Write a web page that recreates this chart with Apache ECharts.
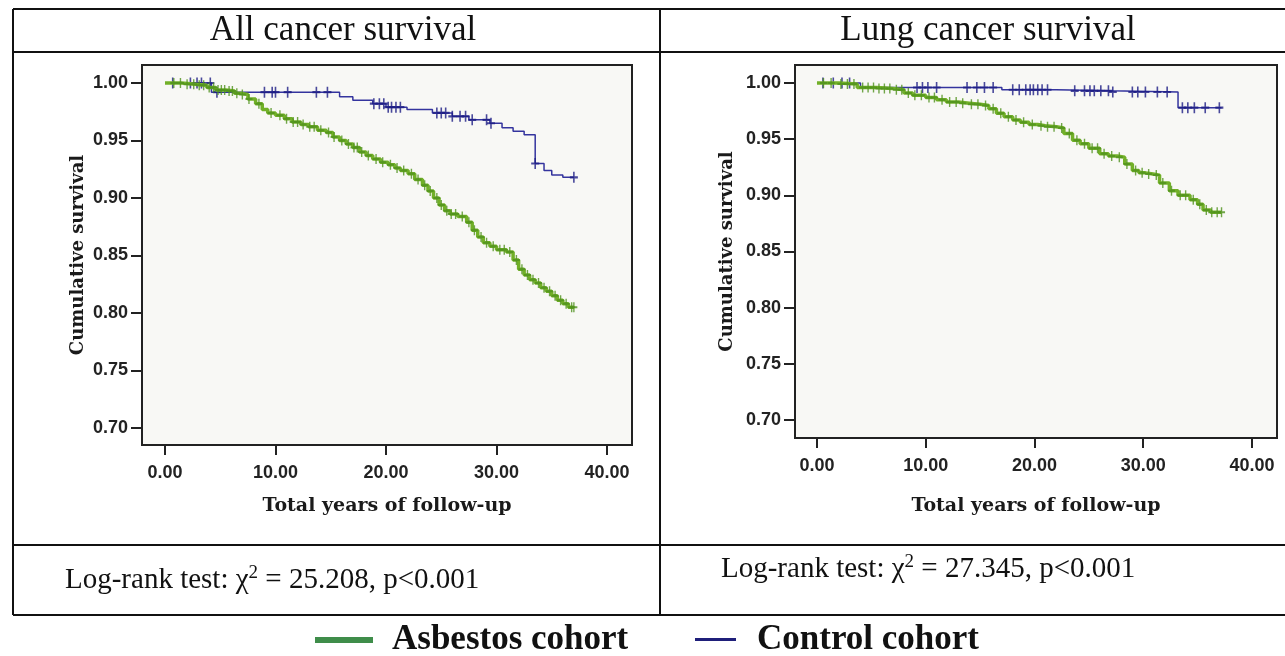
<!DOCTYPE html>
<html>
<head>
<meta charset="utf-8">
<script src="https://cdn.jsdelivr.net/npm/echarts@6/dist/echarts.min.js"></script>
<style>
  html, body { margin: 0; padding: 0; background: #fff; }
  #main { width: 1285px; height: 656px; }
</style>
</head>
<body>
<div id="main"></div>
<script>
// Kaplan-Meier steps (time in years, cumulative survival)
const allAsbT = [0, 1.5, 2.8, 3.8, 4.6, 5.5, 6.3, 6.8, 7.5, 8.2, 8.8, 9.3, 10.0, 10.8, 11.5, 12.3, 13.0, 13.8, 14.6, 15.2, 15.8, 16.4, 17.0, 17.6, 18.2, 18.8, 19.5, 20.2, 20.8, 21.3, 22.0, 22.6, 23.3, 23.8, 24.3, 24.8, 25.3, 25.8, 26.5, 27.3, 27.8, 28.3, 28.8, 29.4, 30.0, 30.9, 31.5, 32.0, 32.5, 33.0, 33.5, 34.0, 34.5, 35.0, 35.5, 36.0, 36.5, 37.0];
const allAsbS = [1.000, 0.999, 0.998, 0.996, 0.994, 0.993, 0.991, 0.990, 0.986, 0.982, 0.977, 0.974, 0.972, 0.969, 0.966, 0.964, 0.962, 0.959, 0.957, 0.953, 0.950, 0.947, 0.944, 0.940, 0.937, 0.934, 0.931, 0.929, 0.926, 0.924, 0.921, 0.916, 0.911, 0.906, 0.900, 0.894, 0.889, 0.886, 0.884, 0.879, 0.872, 0.866, 0.861, 0.858, 0.855, 0.853, 0.846, 0.838, 0.833, 0.829, 0.826, 0.822, 0.819, 0.815, 0.811, 0.808, 0.805, 0.805];
const allAsbCensor = [0.8, 1.4, 2.0, 2.6, 3.1, 3.5, 4.0, 4.4, 4.8, 5.1, 5.4, 5.8, 6.1, 6.5, 7.0, 7.6, 8.5, 9.6, 10.4, 11.0, 11.6, 12.0, 12.5, 13.1, 13.5, 14.1, 14.8, 15.3, 16.0, 16.6, 17.1, 17.4, 17.8, 18.4, 19.1, 19.7, 20.4, 21.0, 21.6, 22.3, 22.9, 23.5, 24.0, 24.6, 25.0, 25.5, 25.9, 26.3, 26.9, 27.5, 28.0, 28.6, 29.1, 29.7, 30.3, 30.7, 31.2, 31.8, 32.3, 32.8, 33.3, 33.8, 34.3, 34.8, 35.3, 35.8, 36.3, 36.8, 37.0];

const allCtlT = [0, 4.2, 15.8, 17.0, 18.8, 20.0, 21.9, 24.2, 26.0, 27.5, 29.4, 30.5, 31.5, 32.5, 33.5, 34.3, 35.0, 36.0, 37.0];
const allCtlS = [1.000, 0.992, 0.988, 0.985, 0.982, 0.979, 0.977, 0.974, 0.971, 0.968, 0.965, 0.961, 0.958, 0.955, 0.930, 0.924, 0.920, 0.918, 0.918];
const allCtlCensor = [0.7, 2.3, 2.9, 3.3, 4.1, 4.7, 9.0, 9.7, 10.0, 11.1, 13.7, 14.7, 18.9, 19.4, 19.8, 20.2, 20.5, 20.9, 21.3, 24.6, 25.0, 25.4, 26.0, 26.7, 27.2, 27.8, 29.1, 29.5, 33.5, 37.0];

const lungAsbT = [0, 2.0, 3.7, 5.5, 7.0, 8.0, 8.8, 10.0, 11.0, 11.9, 13.0, 14.0, 15.0, 15.8, 16.5, 17.2, 18.0, 18.7, 19.5, 20.3, 21.0, 22.0, 22.7, 23.5, 24.2, 25.0, 26.0, 26.8, 27.6, 28.3, 29.0, 29.6, 30.2, 30.9, 31.5, 32.4, 33.2, 34.3, 35.0, 35.5, 36.2, 37.2];
const lungAsbS = [1.000, 0.999, 0.996, 0.995, 0.994, 0.991, 0.989, 0.987, 0.985, 0.983, 0.982, 0.981, 0.980, 0.977, 0.973, 0.970, 0.967, 0.965, 0.963, 0.962, 0.961, 0.960, 0.955, 0.949, 0.946, 0.942, 0.937, 0.935, 0.934, 0.928, 0.922, 0.920, 0.919, 0.918, 0.911, 0.904, 0.900, 0.896, 0.892, 0.887, 0.885, 0.885];
const lungAsbCensor = [0.6, 1.3, 2.2, 2.8, 3.4, 4.2, 4.7, 5.2, 5.7, 6.2, 6.7, 7.3, 7.8, 8.4, 9.0, 9.6, 10.3, 10.8, 11.5, 12.2, 12.8, 13.4, 14.2, 14.8, 15.5, 16.2, 16.9, 17.6, 18.3, 19.0, 19.8, 20.6, 21.2, 21.8, 22.5, 23.2, 23.9, 24.6, 25.3, 25.8, 26.4, 27.1, 27.8, 28.5, 29.3, 29.9, 30.5, 31.2, 31.8, 32.6, 33.4, 33.9, 34.6, 35.2, 35.8, 36.3, 36.8, 37.2];

const lungCtlT = [0, 4.0, 17.0, 22.0, 27.0, 33.2, 37.2];
const lungCtlS = [1.000, 0.996, 0.994, 0.993, 0.992, 0.978, 0.978];
const lungCtlCensor = [0.55, 1.5, 2.3, 3.0, 9.2, 9.7, 10.2, 11.0, 13.8, 14.7, 15.4, 16.2, 18.0, 18.6, 19.2, 19.6, 19.9, 20.3, 20.7, 21.2, 23.7, 24.6, 25.1, 25.5, 26.1, 26.8, 27.2, 29.0, 29.5, 30.2, 31.3, 32.2, 33.6, 34.1, 34.7, 35.7, 37.0];

const xTicks = [0, 10, 20, 30, 40];
const yTicks = [0.70, 0.75, 0.80, 0.85, 0.90, 0.95, 1.00];
const panelTitles = ['All cancer survival', 'Lung cancer survival'];
const logRankChi = ['25.208', '27.345'];
const seriesNames = ['Asbestos cohort', 'Control cohort'];

const GREEN = '#72b028', GREEN_MARK = '#4f911d';
const BLUE = '#34349e', BLUE_MARK = '#1d1d84';
const PLUS = 'path://M4,0 L6,0 L6,4 L10,4 L10,6 L6,6 L6,10 L4,10 L4,6 L0,6 L0,4 L4,4 Z';

const pairs = (T, S) => T.map((t, i) => [t, S[i]]);
// censor mark sits on the step curve at its time
const survAt = (T, S, t) => {
  let v = S[0];
  for (let i = 0; i < T.length; i++) { if (T[i] <= t) v = S[i]; }
  return v;
};
const censorPts = (T, S, C) => C.map(t => [t, survAt(T, S, t)]);

const chartInstance = echarts.init(document.getElementById('main'), null, { renderer: 'canvas' });

const gridArr = [
  { left: 142, top: 65, width: 490, height: 380 },
  { left: 795, top: 65, width: 482, height: 373 }
];
const xRange = [[-2.08, 42.26], [-2.02, 42.30]];
const yRange = [[0.68522, 1.01565], [0.68398, 1.01602]];
const yNameGap = [55, 59];
const xNameGap = [52, 59];

const makeX = (i) => ({
  type: 'value', gridIndex: i, min: xRange[i][0], max: xRange[i][1],
  name: 'Total years of follow-up', nameLocation: 'middle', nameGap: xNameGap[i],
  nameTextStyle: { fontFamily: 'DejaVu Serif', fontWeight: 'bold', fontSize: 19, color: '#1a1a1a' },
  axisLine: { show: false, onZero: false },
  splitLine: { show: false },
  axisTick: { show: true, length: 10, customValues: xTicks, lineStyle: { color: '#222', width: 2 } },
  axisLabel: { customValues: xTicks, margin: 19, fontFamily: 'Liberation Sans', fontWeight: 'bold', fontSize: 18, color: '#222',
    formatter: v => v.toFixed(2) }
});
const makeY = (i) => ({
  type: 'value', gridIndex: i, min: yRange[i][0], max: yRange[i][1],
  name: 'Cumulative survival', nameLocation: 'middle', nameGap: yNameGap[i], nameRotate: 90,
  nameTextStyle: { fontFamily: 'DejaVu Serif', fontWeight: 'bold', fontSize: 18, color: '#1a1a1a' },
  axisLine: { show: false, onZero: false },
  splitLine: { show: false },
  axisTick: { show: true, length: 11, customValues: yTicks, lineStyle: { color: '#222', width: 2 } },
  axisLabel: { customValues: yTicks, margin: 14, fontFamily: 'Liberation Sans', fontWeight: 'bold', fontSize: 18, color: '#222',
    formatter: v => v.toFixed(2) }
});

const curves = [
  [allAsbT, allAsbS, allAsbCensor, allCtlT, allCtlS, allCtlCensor],
  [lungAsbT, lungAsbS, lungAsbCensor, lungCtlT, lungCtlS, lungCtlCensor]
];
const seriesArr = [];
curves.forEach((c, i) => {
  seriesArr.push({
    name: seriesNames[1], type: 'line', step: 'end', xAxisIndex: i, yAxisIndex: i,
    symbol: 'none', data: pairs(c[3], c[4]), lineStyle: { color: BLUE, width: 1.5 }, z: 3
  });
  seriesArr.push({
    name: seriesNames[1], type: 'scatter', xAxisIndex: i, yAxisIndex: i,
    symbol: PLUS, symbolSize: [8, 11], data: censorPts(c[3], c[4], c[5]),
    itemStyle: { color: BLUE_MARK }, z: 4
  });
  seriesArr.push({
    name: seriesNames[0], type: 'line', step: 'end', xAxisIndex: i, yAxisIndex: i,
    symbol: 'none', data: pairs(c[0], c[1]), lineStyle: { color: GREEN, width: 3.5 }, z: 5
  });
  seriesArr.push({
    name: seriesNames[0], type: 'scatter', xAxisIndex: i, yAxisIndex: i,
    symbol: PLUS, symbolSize: [7, 10], data: censorPts(c[0], c[1], c[2]),
    itemStyle: { color: GREEN_MARK }, z: 6
  });
});

// table frame, titles, log-rank notes and the legend
const LINE = { stroke: '#111', lineWidth: 2 };
const hLine = (y, x1, x2) => ({ type: 'line', shape: { x1, y1: y, x2, y2: y }, style: LINE, silent: true });
const vLine = (x, y1, y2) => ({ type: 'line', shape: { x1: x, y1, x2: x, y2 }, style: LINE, silent: true });
const serifText = (x, y, text, size, align, weight) => ({
  type: 'text', x, y, silent: true,
  style: { text, fontFamily: 'Liberation Serif', fontSize: size, fontWeight: weight || 'normal', fill: '#111',
    align, verticalAlign: 'middle' }
});
const logRankText = (x, y, chi) => ({
  type: 'text', x, y, silent: true,
  style: {
    text: 'Log-rank test: χ{sup|2} = ' + chi + ', p<0.001',
    fontFamily: 'Liberation Serif', fontSize: 29, fill: '#111', verticalAlign: 'middle',
    rich: { sup: { fontFamily: 'Liberation Serif', fontSize: 19, verticalAlign: 'top', padding: [0, 0, 14, 0] } }
  }
});

const graphicArr = [
  hLine(9, 13, 1285), hLine(52, 13, 1285), hLine(545, 13, 1285), hLine(615, 13, 1285),
  vLine(13, 9, 615), vLine(660, 9, 615),
  serifText(343, 31, panelTitles[0], 35, 'center'),
  serifText(988, 31, panelTitles[1], 35, 'center'),
  logRankText(65, 580, logRankChi[0]),
  logRankText(721, 569, logRankChi[1]),
  { type: 'rect', shape: { x: 315, y: 637, width: 58, height: 6 }, style: { fill: '#3f8d4a' }, silent: true },
  serifText(392, 640, seriesNames[0], 35, 'left', 'bold'),
  { type: 'rect', shape: { x: 695, y: 638, width: 41, height: 3 }, style: { fill: '#1f1f7a' }, silent: true },
  serifText(757, 640, seriesNames[1], 35, 'left', 'bold')
];

const option = {
  animation: false,
  backgroundColor: '#ffffff',
  grid: gridArr.map(g => Object.assign({ show: true, backgroundColor: '#f8f8f5', borderColor: '#222', borderWidth: 2, containLabel: false }, g)),
  xAxis: [makeX(0), makeX(1)],
  yAxis: [makeY(0), makeY(1)],
  series: seriesArr,
  graphic: graphicArr
};
chartInstance.setOption(option);
</script>
</body>
</html>
